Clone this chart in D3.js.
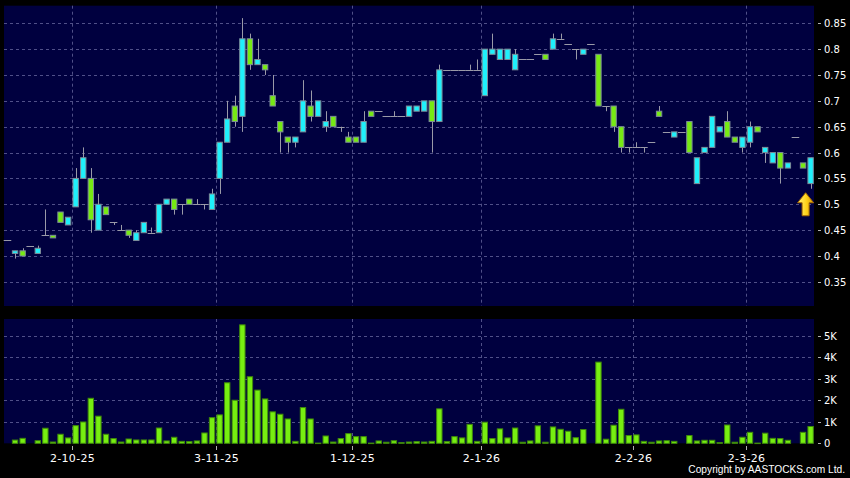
<!DOCTYPE html>
<html><head><meta charset="utf-8">
<script src="https://cdn.jsdelivr.net/npm/d3@7"></script>
<style>html,body{margin:0;padding:0;background:#000;} svg{display:block}</style>
</head><body>
<svg id="c" width="850" height="478"></svg>
<script>
// ---- data ----
const opens  = [0.43,0.405,0.41,0.42,0.405,0.44,0.44,0.485,0.46,0.495,0.55,0.55,0.45,0.495,0.465,0.45,0.45,0.43,0.445,0.445,
0.445,0.50,0.51,0.50,0.51,0.50,0.50,0.49,0.55,0.62,0.69,0.67,0.82,0.77,0.77,0.71,0.66,0.63,0.62,0.64,
0.69,0.67,0.65,0.67,0.65,0.63,0.63,0.62,0.68,0.68,0.67,0.67,0.67,0.67,0.68,0.68,0.70,0.66,0.76,0.76,
0.76,0.76,0.76,0.71,0.79,0.78,0.78,0.76,0.78,0.78,0.79,0.79,0.80,0.82,0.81,0.80,0.79,0.81,0.79,0.69,
0.69,0.65,0.61,0.61,0.61,0.62,0.68,0.64,0.63,0.64,0.66,0.54,0.60,0.61,0.64,0.66,0.63,0.61,0.62,0.65,
0.60,0.58,0.60,0.57,0.63,0.58,0.54];
const highs  = [0.43,0.41,0.415,0.42,0.42,0.49,0.44,0.485,0.475,0.57,0.61,0.57,0.52,0.495,0.465,0.46,0.45,0.45,0.465,0.455,
0.50,0.51,0.51,0.50,0.51,0.51,0.50,0.53,0.62,0.70,0.71,0.86,0.83,0.82,0.77,0.75,0.66,0.63,0.63,0.74,
0.72,0.70,0.68,0.67,0.65,0.64,0.63,0.68,0.68,0.68,0.67,0.68,0.67,0.69,0.69,0.70,0.70,0.77,0.76,0.76,
0.76,0.77,0.78,0.80,0.83,0.80,0.80,0.80,0.78,0.78,0.79,0.79,0.83,0.83,0.81,0.80,0.80,0.81,0.79,0.69,
0.69,0.65,0.61,0.62,0.61,0.62,0.69,0.64,0.64,0.64,0.66,0.59,0.61,0.67,0.65,0.68,0.63,0.63,0.66,0.65,
0.61,0.60,0.60,0.58,0.63,0.58,0.59];
const lows   = [0.43,0.395,0.40,0.42,0.405,0.44,0.435,0.465,0.46,0.495,0.55,0.445,0.45,0.48,0.46,0.45,0.435,0.43,0.445,0.445,
0.445,0.50,0.48,0.48,0.50,0.50,0.49,0.49,0.52,0.62,0.65,0.64,0.76,0.77,0.75,0.69,0.60,0.60,0.61,0.64,
0.66,0.67,0.64,0.65,0.64,0.62,0.62,0.62,0.67,0.68,0.67,0.67,0.67,0.67,0.68,0.68,0.60,0.66,0.76,0.76,
0.76,0.76,0.76,0.71,0.79,0.78,0.78,0.76,0.78,0.78,0.79,0.78,0.80,0.82,0.81,0.78,0.79,0.81,0.69,0.68,
0.64,0.60,0.60,0.61,0.60,0.62,0.67,0.64,0.63,0.64,0.60,0.54,0.60,0.61,0.64,0.63,0.62,0.60,0.61,0.64,
0.58,0.58,0.54,0.57,0.63,0.57,0.53];
const closes = [0.43,0.41,0.40,0.42,0.415,0.44,0.435,0.465,0.475,0.55,0.59,0.47,0.50,0.48,0.465,0.45,0.44,0.445,0.465,0.445,
0.50,0.51,0.49,0.50,0.50,0.50,0.50,0.52,0.62,0.665,0.66,0.82,0.77,0.78,0.76,0.69,0.64,0.62,0.63,0.70,
0.67,0.70,0.66,0.65,0.65,0.62,0.62,0.66,0.67,0.68,0.67,0.67,0.67,0.69,0.69,0.70,0.66,0.76,0.76,0.76,
0.76,0.76,0.76,0.80,0.80,0.80,0.80,0.79,0.78,0.78,0.79,0.78,0.82,0.82,0.81,0.80,0.80,0.81,0.69,0.69,
0.65,0.61,0.61,0.61,0.61,0.62,0.67,0.64,0.64,0.64,0.60,0.59,0.61,0.67,0.65,0.63,0.62,0.63,0.65,0.64,
0.61,0.60,0.57,0.58,0.63,0.57,0.59];
const volumes = [0,150,230,0,120,700,60,420,250,820,990,2090,1260,420,220,60,200,155,155,155,
710,110,280,90,80,110,480,1190,1320,2810,2000,5500,3090,2470,2060,1460,1350,1130,90,1660,
1130,10,340,60,220,450,310,310,10,110,50,120,30,60,80,60,90,1600,80,310,
250,880,90,980,220,670,250,710,50,110,810,50,760,650,560,260,640,0,3770,190,
840,1580,360,390,90,50,110,120,90,0,360,110,140,140,30,850,50,280,510,10,
470,230,220,140,0,510,780];
const tickIndex  = [9, 28, 46, 63, 83, 98];
const tickLabels = ["2-10-25","3-11-25","1-12-25","2-1-26","2-2-26","2-3-26"];
const priceTicks = [0.35,0.4,0.45,0.5,0.55,0.6,0.65,0.7,0.75,0.8,0.85];
const volTicks   = [0,1000,2000,3000,4000,5000];

const data = opens.map((o,i)=>({i, o, h:highs[i], l:lows[i], c:closes[i], v:volumes[i]}));

// ---- layout ----
const svg = d3.select("#c");
const PL = 4, PR = 814;
const priceTop = 5.7, priceBot = 306;
const volTop = 319, volBot = 443.3;
const navy = "#00003f", gridC = "#505088";
const upC = "#1ff0fb", dnC = "#77ea13", edgeC = "#7c8c98", wickC = "#9a9aa8";

const x = d3.scaleBand().domain(d3.range(data.length)).range([3.7, 814.4]).paddingInner(0.16).paddingOuter(0.08);
const step = x.step(), bw = x.bandwidth();
const cx = i => x(i) + bw/2;
const y = d3.scaleLinear().domain([0.3033, 0.884]).range([priceBot, priceTop]);
const yv = d3.scaleLinear().domain([0, 5772]).range([volBot, volTop]);

svg.append("rect").attr("width",850).attr("height",478).attr("fill","#000");
svg.append("rect").attr("x",PL).attr("y",priceTop).attr("width",PR-PL).attr("height",priceBot-priceTop).attr("fill",navy);
svg.append("rect").attr("x",PL).attr("y",volTop).attr("width",PR-PL).attr("height",volBot-volTop).attr("fill",navy);

// grids
const g = svg.append("g").attr("stroke",gridC).attr("stroke-dasharray","3,3").attr("stroke-width",1);
priceTicks.forEach(t=>g.append("line").attr("x1",PL).attr("x2",PR).attr("y1",Math.round(y(t))+0.5).attr("y2",Math.round(y(t))+0.5));
volTicks.filter(t=>t>0).forEach(t=>g.append("line").attr("x1",PL).attr("x2",PR).attr("y1",Math.round(yv(t))+0.5).attr("y2",Math.round(yv(t))+0.5));
tickIndex.forEach(k=>{
  const gx = Math.round(cx(k) - step/2) + 0.5;
  g.append("line").attr("x1",gx).attr("x2",gx).attr("y1",priceTop).attr("y2",priceBot);
  g.append("line").attr("x1",gx).attr("x2",gx).attr("y1",volTop).attr("y2",volBot);
});

// candles
const cg = svg.append("g");
data.forEach(d=>{
  const xc = cx(d.i);
  if (d.h > Math.max(d.o,d.c) || d.l < Math.min(d.o,d.c)) {
    cg.append("line").attr("x1",Math.round(xc)+0.5).attr("x2",Math.round(xc)+0.5)
      .attr("y1",y(d.h)).attr("y2",y(d.l)).attr("stroke",wickC).attr("stroke-width",1);
  }
  if (d.o === d.c) {
    cg.append("line").attr("x1",xc-step/2).attr("x2",xc+step/2)
      .attr("y1",Math.round(y(d.c))+0.5).attr("y2",Math.round(y(d.c))+0.5).attr("stroke",wickC).attr("stroke-width",1);
  } else {
    const top = y(Math.max(d.o,d.c)), bot = y(Math.min(d.o,d.c));
    cg.append("rect").attr("x",x(d.i)+0.5).attr("y",top).attr("width",bw-1).attr("height",Math.max(1,bot-top))
      .attr("fill", d.c > d.o ? upC : dnC).attr("stroke",edgeC).attr("stroke-width",1);
  }
});

// volume bars
svg.append("g").selectAll("rect").data(data.filter(d=>d.v>0)).join("rect")
  .attr("x",d=>x(d.i)+0.5).attr("width",bw-1)
  .attr("y",d=>yv(d.v)).attr("height",d=>Math.max(0.5,volBot-yv(d.v)))
  .attr("fill","#77ee11").attr("stroke","#3f8a0a").attr("stroke-width",1);

// right axes
const axC = "#b0b0b0";
const ax = svg.append("g").attr("font-family","DejaVu Sans, Verdana, sans-serif").attr("fill","#fff");
priceTicks.forEach(t=>{
  const yy = Math.round(y(t))+0.5;
  ax.append("line").attr("x1",818).attr("x2",821).attr("y1",yy).attr("y2",yy).attr("stroke",axC);
  ax.append("text").attr("x",824).attr("y",yy+3.5).attr("font-size",10).text(String(t));
});
volTicks.forEach(t=>{
  const yy = Math.round(yv(t))+0.5;
  ax.append("line").attr("x1",818).attr("x2",821).attr("y1",yy).attr("y2",yy).attr("stroke",axC);
  ax.append("text").attr("x",824).attr("y",yy+3.5).attr("font-size",10).text(t===0?"0":(t/1000)+"K");
});
// bottom axis
tickIndex.forEach((k,j)=>{
  const gx = Math.round(cx(k) - step/2) + 0.5;
  ax.append("line").attr("x1",gx).attr("x2",gx).attr("y1",446).attr("y2",450).attr("stroke",axC);
  ax.append("text").attr("x",gx).attr("y",462).attr("font-size",11).attr("text-anchor","middle").attr("letter-spacing",0.3).text(tickLabels[j]);
});
ax.append("text").attr("x",845).attr("y",473).attr("font-family","Liberation Sans, Arial, sans-serif")
  .attr("font-size",10.2).attr("text-anchor","end").text("Copyright by AASTOCKS.com Ltd.");

// arrow under the last candle
const defs = svg.append("defs");
const gr = defs.append("linearGradient").attr("id","ag").attr("x1",0).attr("x2",1).attr("y1",0).attr("y2",0);
gr.append("stop").attr("offset","0%").attr("stop-color","#fff27a");
gr.append("stop").attr("offset","55%").attr("stop-color","#ffd21a");
gr.append("stop").attr("offset","100%").attr("stop-color","#d99a00");
const last = data[data.length-1];
const axp = cx(last.i) - 5, ayp = y(last.l) + 4;
svg.append("path")
  .attr("d",`M${axp},${ayp} L${axp+8},${ayp+10} L${axp+3.5},${ayp+10} L${axp+3.5},${ayp+23} L${axp-3.5},${ayp+23} L${axp-3.5},${ayp+10} L${axp-8},${ayp+10} Z`)
  .attr("fill","url(#ag)").attr("stroke","#a86a00").attr("stroke-width",1);
</script>
</body></html>
